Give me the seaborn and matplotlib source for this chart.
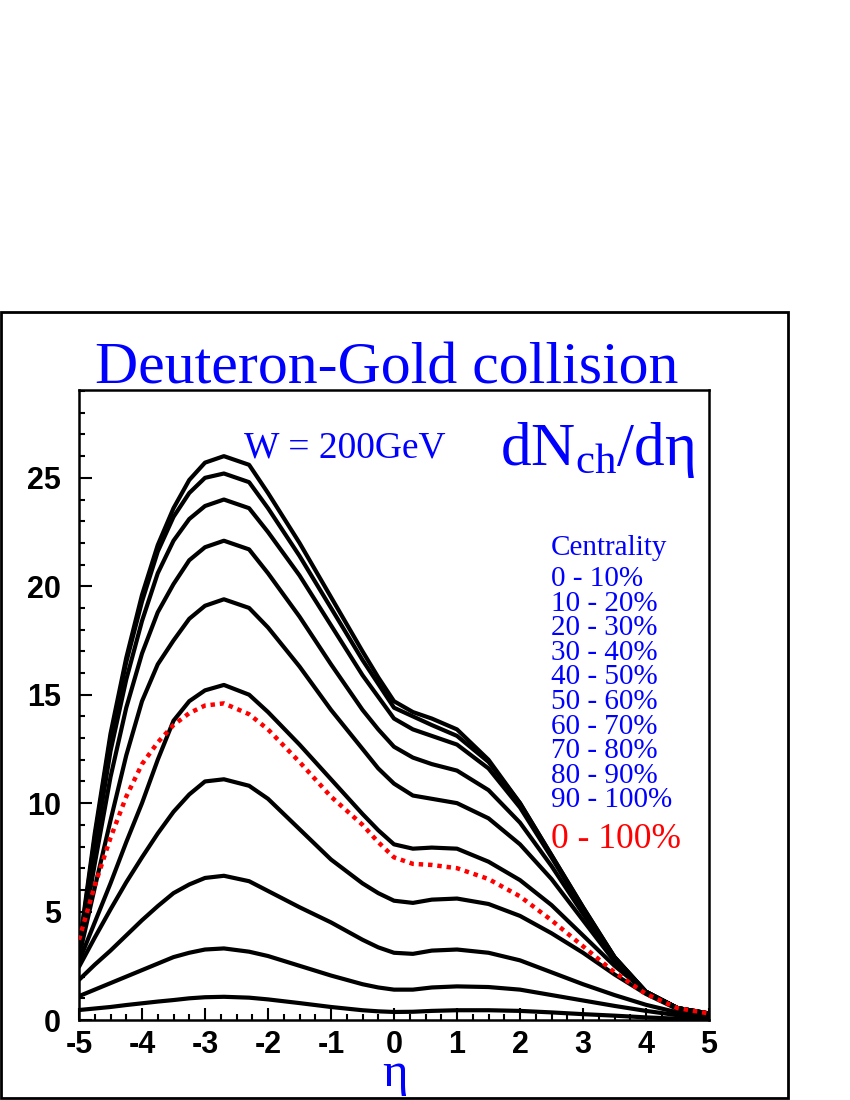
import numpy as np
import pandas as pd
import matplotlib
matplotlib.use('Agg')
import matplotlib.pyplot as plt
from matplotlib.patches import Rectangle
from matplotlib.ticker import MultipleLocator
import seaborn as sns

# pseudorapidity grid and dN/deta per centrality bin
eta = [-5, -4.75, -4.5, -4.25, -4, -3.75, -3.5, -3.25, -3, -2.7, -2.3, -2,
       -1.5, -1, -0.5, -0.25, 0, 0.3, 0.6, 1, 1.5, 2, 2.5, 3, 3.5, 4, 4.5, 5]

c0_10 = [3.3, 8.6, 13.2, 16.7, 19.6, 21.9, 23.6, 24.9, 25.7, 26.0, 25.6, 24.3,
         22.0, 19.5, 17.0, 15.8, 14.7, 14.2, 13.9, 13.4, 12.0, 10.0, 7.6, 5.2,
         2.9, 1.3, 0.55, 0.3]
c10_20 = [3.2, 8.4, 13.0, 16.5, 19.3, 21.6, 23.2, 24.3, 25.0, 25.2, 24.8, 23.6,
          21.4, 19.0, 16.6, 15.5, 14.4, 14.0, 13.6, 13.1, 11.9, 10.0, 7.6, 5.2,
          2.9, 1.3, 0.55, 0.3]
c20_30 = [3.1, 7.9, 12.4, 15.7, 18.4, 20.6, 22.1, 23.1, 23.7, 24.0, 23.6, 22.5,
          20.5, 18.2, 15.9, 14.9, 13.9, 13.4, 13.1, 12.7, 11.6, 9.8, 7.5, 5.1,
          2.9, 1.3, 0.55, 0.3]
c30_40 = [3.0, 7.2, 11.2, 14.4, 16.9, 18.8, 20.1, 21.2, 21.8, 22.1, 21.7, 20.6,
          18.6, 16.4, 14.3, 13.4, 12.6, 12.1, 11.8, 11.5, 10.6, 9.1, 7.1, 4.9,
          2.8, 1.3, 0.55, 0.3]
c40_50 = [2.9, 6.1, 9.2, 12.2, 14.7, 16.4, 17.5, 18.5, 19.1, 19.4, 19.0, 18.1,
          16.3, 14.3, 12.5, 11.6, 10.9, 10.35, 10.2, 10.0, 9.3, 8.1, 6.5, 4.6,
          2.7, 1.3, 0.55, 0.3]
c50_60 = [2.7, 4.5, 6.3, 8.2, 10.0, 12.0, 13.8, 14.7, 15.2, 15.45, 15.0, 14.2,
          12.7, 11.1, 9.5, 8.75, 8.1, 7.9, 7.95, 7.9, 7.3, 6.45, 5.3, 3.9,
          2.5, 1.3, 0.55, 0.28]
c60_70 = [2.45, 3.8, 5.1, 6.35, 7.5, 8.6, 9.6, 10.4, 11.0, 11.1, 10.8, 10.2,
          8.8, 7.4, 6.3, 5.85, 5.5, 5.4, 5.55, 5.6, 5.35, 4.8, 4.0, 3.1,
          2.1, 1.2, 0.5, 0.25]
c70_80 = [1.85, 2.55, 3.2, 3.9, 4.6, 5.25, 5.85, 6.25, 6.55, 6.65, 6.4, 5.95,
          5.2, 4.5, 3.7, 3.35, 3.1, 3.05, 3.2, 3.25, 3.1, 2.75, 2.2, 1.65,
          1.15, 0.7, 0.35, 0.15]
c80_90 = [1.1, 1.4, 1.7, 2.0, 2.3, 2.6, 2.9, 3.1, 3.25, 3.3, 3.15, 2.95,
          2.5, 2.05, 1.65, 1.5, 1.4, 1.4, 1.5, 1.55, 1.52, 1.4, 1.15, 0.9,
          0.65, 0.42, 0.22, 0.1]
c90_100 = [0.46, 0.53, 0.6, 0.69, 0.77, 0.85, 0.92, 1.0, 1.05, 1.07, 1.03, 0.95,
           0.78, 0.6, 0.45, 0.4, 0.37, 0.38, 0.42, 0.45, 0.45, 0.42, 0.35, 0.27,
           0.2, 0.12, 0.06, 0.03]
c0_100 = [3.7, 6.2, 8.4, 10.3, 11.8, 12.8, 13.6, 14.15, 14.5, 14.6, 14.1, 13.4,
          11.9, 10.3, 9.0, 8.2, 7.5, 7.2, 7.15, 7.0, 6.5, 5.7, 4.6, 3.4,
          2.2, 1.2, 0.55, 0.3]

centrality_labels = ['0 - 10%', '10 - 20%', '20 - 30%', '30 - 40%', '40 - 50%',
                     '50 - 60%', '60 - 70%', '70 - 80%', '80 - 90%', '90 - 100%']
total_label = '0 - 100%'

curves = [c0_10, c10_20, c20_30, c30_40, c40_50,
          c50_60, c60_70, c70_80, c80_90, c90_100]

df = pd.DataFrame({
    'eta': np.tile(eta, len(curves)),
    'dN': np.concatenate(curves),
    'cent': np.repeat(centrality_labels, len(eta)),
})

sns.set_style('ticks')
plt.rcParams['font.family'] = ['Liberation Serif', 'DejaVu Serif']
plt.rcParams['mathtext.fontset'] = 'custom'
plt.rcParams['mathtext.rm'] = 'Liberation Serif'
plt.rcParams['mathtext.it'] = 'Liberation Serif:italic'
plt.rcParams['axes.unicode_minus'] = False

W, H = 850, 1100


def fx(px):
    return px / W


def fy(py):
    return 1 - py / H


fig = plt.figure(figsize=(8.5, 11), dpi=100)
ax = fig.add_axes([fx(79), fy(1020), fx(709) - fx(79), fy(390) - fy(1020)])

sns.lineplot(data=df, x='eta', y='dN', units='cent', estimator=None,
             color='black', lw=3, sort=False, ax=ax)
sns.lineplot(x=eta, y=c0_100, color='red', lw=3.2, linestyle=(0, (1, 1.1)),
             ax=ax, zorder=5)

ax.set_xlim(-5, 5)
ax.set_ylim(0, 29.05)
ax.set_xlabel('')
ax.set_ylabel('')
ax.xaxis.set_major_locator(MultipleLocator(1))
ax.xaxis.set_minor_locator(MultipleLocator(0.25))
ax.yaxis.set_major_locator(MultipleLocator(5))
ax.yaxis.set_minor_locator(MultipleLocator(1))
ax.tick_params(which='major', direction='in', length=9, width=1.5, color='black',
               labelcolor='black', top=False, right=False, labelsize=22)
ax.tick_params(which='minor', direction='in', length=4.5, width=1.5, color='black',
               top=False, right=False)
ax.tick_params(axis='x', pad=7)
ax.tick_params(axis='y', pad=13)
for lab in ax.get_xticklabels() + ax.get_yticklabels():
    lab.set_fontfamily('Liberation Sans')
    lab.set_fontweight('bold')
for sp in ax.spines.values():
    sp.set_linewidth(1.8)
    sp.set_color('black')
    sp.set_visible(True)

# outer frame
fig.patches.append(Rectangle((fx(1), fy(1098)), fx(788) - fx(1), fy(312) - fy(1098),
                             transform=fig.transFigure, fill=False, lw=2, ec='black'))

fig.text(fx(387), fy(383), 'Deuteron-Gold collision', ha='center', va='baseline',
         fontsize=43, color='blue')
fig.text(fx(244), fy(457), 'W = 200GeV', ha='left', va='baseline',
         fontsize=27, color='blue')
fig.text(fx(500), fy(465), r'$\mathrm{dN_{ch}/d\eta}$', ha='left', va='baseline',
         fontsize=44, color='blue')
# x axis title as mathtext so its box hugs the glyph
fig.text(fx(394), fy(1086), r'$\mathrm{\eta}$', ha='center', va='baseline',
         fontsize=35, color='blue')

fig.text(fx(551), fy(555), 'Centrality', ha='left', va='baseline', fontsize=21, color='blue')
for i, lab in enumerate(centrality_labels):
    fig.text(fx(551), fy(586 + 24.6 * i), lab, ha='left', va='baseline',
             fontsize=21, color='blue')
fig.text(fx(551), fy(848), total_label, ha='left', va='baseline', fontsize=25.5, color='red')

fig.savefig('out.png', dpi=100)
